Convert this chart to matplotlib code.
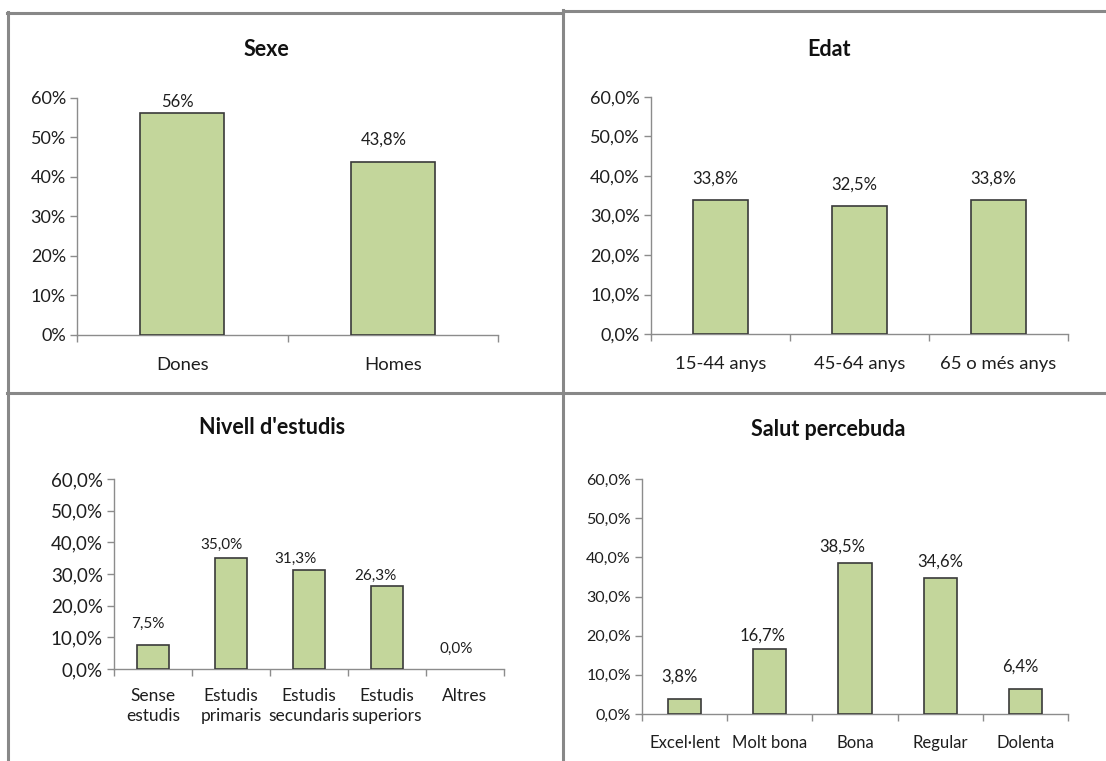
import matplotlib
matplotlib.use("Agg")
import matplotlib.pyplot as plt
from matplotlib.lines import Line2D

plt.rcParams['font.family'] = ['Lato', 'DejaVu Sans']

# ---------------- data ----------------
sexe_cats = ["Dones", "Homes"]
sexe_vals = [56.3, 43.8]
sexe_labels = ["56%", "43,8%"]
sexe_ticks = ["0%", "10%", "20%", "30%", "40%", "50%", "60%"]

edat_cats = ["15-44 anys", "45-64 anys", "65 o més anys"]
edat_vals = [33.8, 32.5, 33.8]
edat_labels = ["33,8%", "32,5%", "33,8%"]

est_cats = ["Sense\nestudis", "Estudis\nprimaris", "Estudis\nsecundaris", "Estudis\nsuperiors", "Altres"]
est_vals = [7.5, 35.0, 31.3, 26.3, 0.0]
est_labels = ["7,5%", "35,0%", "31,3%", "26,3%", "0,0%"]

salut_cats = ["Excel·lent", "Molt bona", "Bona", "Regular", "Dolenta"]
salut_vals = [3.8, 16.7, 38.5, 34.6, 6.4]
salut_labels = ["3,8%", "16,7%", "38,5%", "34,6%", "6,4%"]

comma_ticks = ["0,0%", "10,0%", "20,0%", "30,0%", "40,0%", "50,0%", "60,0%"]
tick_vals = [0, 10, 20, 30, 40, 50, 60]

# ---------------- layout ----------------
W, H = 1106, 761
fig = plt.figure(figsize=(W / 100, H / 100), dpi=100)

BAR = "#C3D69B"
EDGE = "#3a3a3a"
AX = "#8c8c8c"
BORDER = "#888888"
TXT = "#1e1e1e"


def px_axes(x0, y_top, x1, y_bot):
    return fig.add_axes([x0 / W, 1 - y_bot / H, (x1 - x0) / W, (y_bot - y_top) / H])


def panel(rect, cats, vals, labels, ticklabels, title, title_xy,
          tick_fs, cat_fs, lab_fs, width, lab_off, cat_pad):
    ax = px_axes(*rect)
    n = len(cats)
    xs = list(range(n))
    lws = [1.2 if v > 0 else 0 for v in vals]
    ax.bar(xs, vals, width=width, color=BAR, edgecolor=EDGE, linewidth=lws, zorder=3)
    ax.set_xlim(-0.5, n - 0.5)
    ax.set_ylim(0, 60)
    ax.set_yticks(tick_vals)
    ax.set_yticklabels(ticklabels, fontsize=tick_fs, color=TXT)
    ax.set_xticks(xs)
    ax.set_xticklabels(cats, fontsize=cat_fs, color=TXT, linespacing=1.3)
    ax.set_xticks([i - 0.5 for i in range(n + 1)], minor=True)
    ax.tick_params(axis='x', which='major', length=0, pad=cat_pad)
    ax.tick_params(axis='x', which='minor', length=5, color=AX, width=1)
    ax.tick_params(axis='y', length=5, color=AX, width=1, pad=3)
    for s in ("top", "right"):
        ax.spines[s].set_visible(False)
    for s in ("left", "bottom"):
        ax.spines[s].set_color(AX)
        ax.spines[s].set_linewidth(1)
    for x, v, t, (dx, dy) in zip(xs, vals, labels, lab_off):
        ax.annotate(t, (x, v), xytext=(dx, dy), textcoords="offset pixels",
                    ha="center", va="center", fontsize=lab_fs, color=TXT)
    fig.text(title_xy[0] / W, 1 - title_xy[1] / H, title, ha="center", va="center",
             fontsize=15.5, fontweight="bold", color="#111111")
    return ax


panel((77, 98, 498, 335), sexe_cats, sexe_vals, sexe_labels, sexe_ticks,
      "Sexe", (266, 49), 13, 13.3, 12, 0.4, [(-5, 11), (-9, 22)], 16)
panel((651, 97, 1068, 334), edat_cats, edat_vals, edat_labels, comma_ticks,
      "Edat", (829, 49), 13, 13.3, 12, 0.4, [(-5, 22), (-5, 21), (-5, 22)], 16)
panel((114, 479, 504, 669), est_cats, est_vals, est_labels, comma_ticks,
      "Nivell d'estudis", (272, 427), 13.5, 12.5, 11, 0.41,
      [(-5, 21), (-10, 13), (-14, 11), (-12, 10), (-9, 20)], 14)
panel((642, 479, 1068, 714), salut_cats, salut_vals, salut_labels, comma_ticks,
      "Salut percebuda", (828, 430), 11.5, 12, 12, 0.39,
      [(-5, 22), (-7, 13), (-13, 17), (0, 17), (-5, 22)], 15)

# panel borders
def hline(y, x0, x1):
    fig.add_artist(Line2D([x0 / W, x1 / W], [1 - y / H, 1 - y / H], color=BORDER, lw=2.2))

def vline(x, y0, y1):
    fig.add_artist(Line2D([x / W, x / W], [1 - y0 / H, 1 - y1 / H], color=BORDER, lw=2.2))

hline(12.5, 7, 563)
hline(11, 563, W)
vline(7.5, 12, H)
vline(563, 10, H)
hline(392.5, 7, W)

fig.savefig("out.png", dpi=100, facecolor="white")
